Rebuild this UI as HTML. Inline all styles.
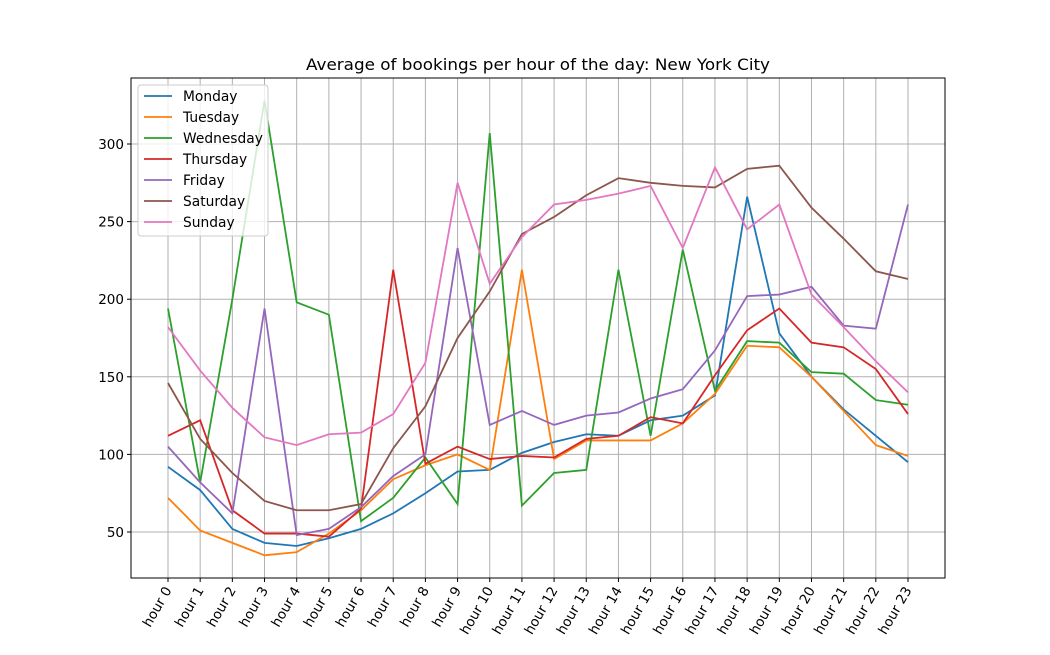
<!DOCTYPE html>
<html><head><meta charset="utf-8"><style>
body{margin:0;background:#fff;}
svg{font-family:"DejaVu Sans","Liberation Sans",sans-serif;}
</style></head><body>
<svg id="chart" width="1050" height="650">
<rect width="1050" height="650" fill="#fff"/>
<text x="538" y="70" text-anchor="middle" font-size="15.6" textLength="464" lengthAdjust="spacingAndGlyphs">Average of bookings per hour of the day: New York City</text>
<g id="grid"></g><g id="lines"></g><g id="axes"></g><g id="legend"></g>
</svg>
<script>
const hours=["hour 0","hour 1","hour 2","hour 3","hour 4","hour 5","hour 6","hour 7","hour 8","hour 9","hour 10","hour 11","hour 12","hour 13","hour 14","hour 15","hour 16","hour 17","hour 18","hour 19","hour 20","hour 21","hour 22","hour 23"];
const seriesNames=["Monday","Tuesday","Wednesday","Thursday","Friday","Saturday","Sunday"];
const monday=[92,77,52,43,41,46,52,62,75,89,90,101,108,113,112,122,125,138,266,178,150,129,112,95];
const tuesday=[72,51,43,35,37,49,64,84,93,100,90,219,97,109,109,109,120,139,170,169,150,128,106,99];
const wednesday=[194,82,200,328,198,190,57,72,98,68,307,67,88,90,219,112,232,141,173,172,153,152,135,132];
const thursday=[112,122,64,49,49,47,65,219,94,105,97,99,98,110,112,124,120,151,180,194,172,169,155,126];
const friday=[105,82,62,194,48,52,66,86,100,233,119,128,119,125,127,136,142,167,202,203,208,183,181,261];
const saturday=[146,110,88,70,64,64,68,104,131,175,205,242,253,267,278,275,273,272,284,286,259,239,218,213];
const sunday=[182,154,130,111,106,113,114,126,159,275,210,240,261,264,268,273,233,285,245,261,203,182,160,140];
const yTicks=[50,100,150,200,250,300];
const colors=["#1f77b4","#ff7f0e","#2ca02c","#d62728","#9467bd","#8c564b","#e377c2"];
const allSeries=[monday,tuesday,wednesday,thursday,friday,saturday,sunday];
const NS="http://www.w3.org/2000/svg";
const L=131,R=945,T=78,B=578;
const xScale=i=>168+i*(908-168)/(hours.length-1);
const yScale=v=>532-(v-50)*(532-144)/250;
function mk(tag,attrs,parent){const e=document.createElementNS(NS,tag);for(const k in attrs)e.setAttribute(k,attrs[k]);parent.appendChild(e);return e;}
const grid=document.getElementById('grid'),lines=document.getElementById('lines'),axes=document.getElementById('axes'),legend=document.getElementById('legend');
hours.forEach((h,i)=>{const x=xScale(i);
 const g=mk('line',{x1:x,x2:x,y1:T,y2:B,stroke:'#b0b0b0','stroke-width':1},grid);
 
 
 mk('line',{x1:x,x2:x,y1:B,y2:B+4,stroke:'#000'},axes);
 const t=mk('text',{x:0,y:0,'font-size':13.5,'text-anchor':'end',transform:`translate(${x+4},${B+12}) rotate(-60)`},axes);
 t.textContent=h;
 
 
});
yTicks.forEach(v=>{const y=yScale(v);
 const g=mk('line',{x1:L,x2:R,y1:y,y2:y,stroke:'#b0b0b0','stroke-width':1},grid);
 
 
 mk('line',{x1:L-4,x2:L,y1:y,y2:y,stroke:'#000'},axes);
 const t=mk('text',{x:L-7,y:y+5,'font-size':13.5,'text-anchor':'end'},axes);
 t.textContent=v;
 
 
});
const frame=mk('rect',{x:L,y:T,width:R-L,height:B-T,fill:'none',stroke:'#000','stroke-width':1},axes);


allSeries.forEach((s,k)=>{
 const p=mk('polyline',{points:s.map((v,i)=>xScale(i)+','+yScale(v)).join(' '),fill:'none',stroke:colors[k],'stroke-width':1.8},lines);
 
 
});
const lb=mk('rect',{x:138,y:85,width:130,height:151,rx:3,fill:'#fff','fill-opacity':0.8,stroke:'#ccc'},legend);


seriesNames.forEach((n,k)=>{const y=96+k*21;
 const l=mk('line',{x1:144,x2:172,y1:y,y2:y,stroke:colors[k],'stroke-width':1.8},legend);
 
 
 const t=mk('text',{x:183,y:y+5,'font-size':13.8},legend);
 t.textContent=n;
 
 
});
</script>
</body></html>
